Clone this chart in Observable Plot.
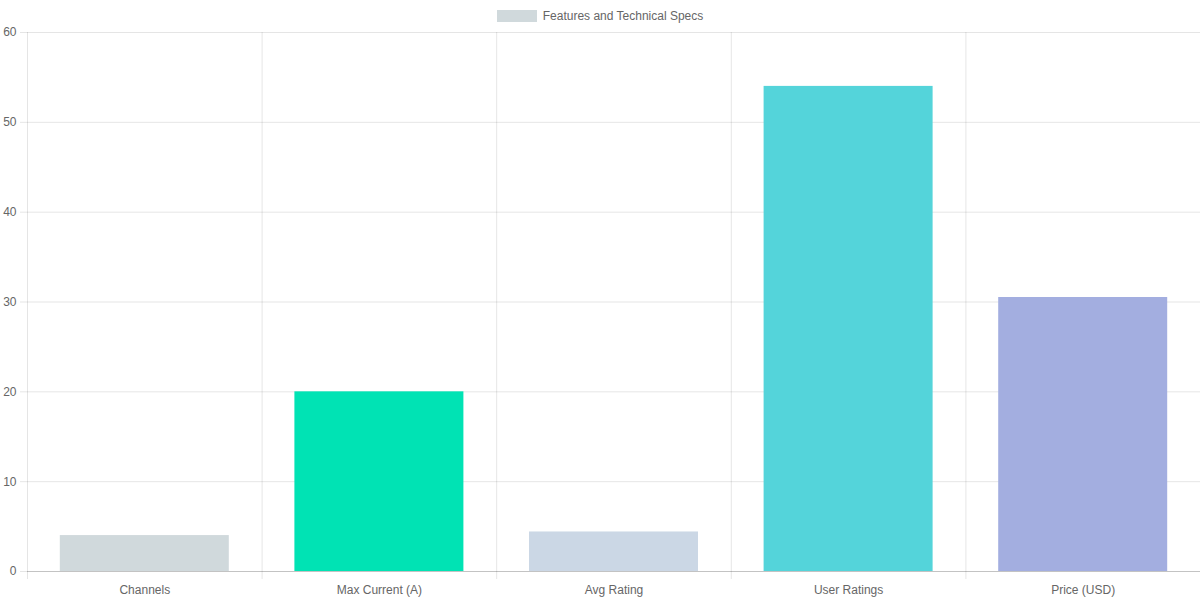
<!DOCTYPE html>
<html>
<head>
<meta charset="utf-8">
<script src="https://cdn.jsdelivr.net/npm/d3@7"></script>
<script src="https://cdn.jsdelivr.net/npm/@observablehq/plot@0.6"></script>
<style>
  html, body { margin: 0; padding: 0; background: #fff; }
  #wrap { position: relative; width: 1200px; height: 600px; font-family: "Liberation Sans", Arial, Helvetica, sans-serif; }
  #legend { position: absolute; top: 0; left: 0; width: 1200px; height: 32px; display: flex; justify-content: center; align-items: center; font-size: 12px; color: #666; }
  #legend .sw { width: 40px; height: 12px; background: #d0d9dc; margin-right: 6px; margin-top: 0px; }
  #chart { position: absolute; top: 0; left: 0; }
</style>
</head>
<body>
<div id="wrap">
  <div id="chart"></div>
  <div id="legend"><div class="sw"></div><span id="legendLabel"></span></div>
</div>
<script>
const seriesName = "Features and Technical Specs";
const categories = ["Channels", "Max Current (A)", "Avg Rating", "User Ratings", "Price (USD)"];
const values = [4, 20, 4.4, 54, 30.5];
const colors = ["#d0d9dc", "#00e3b4", "#cbd7e5", "#54d4da", "#a3aee0"];
const yTicks = [0, 10, 20, 30, 40, 50, 60];

document.getElementById("legendLabel").textContent = seriesName;

const data = categories.map((c, i) => ({category: c, value: values[i], color: colors[i], x1: i, x2: i + 1}));
const boundaries = d3.range(categories.length + 1);
const centers = categories.map((c, i) => i + 0.5);

const chart = Plot.plot({
  width: 1200,
  height: 600,
  marginLeft: 27,
  marginRight: 0,
  marginTop: 32,
  marginBottom: 29,
  style: {fontFamily: '"Liberation Sans", Arial, Helvetica, sans-serif', fontSize: "12px", color: "#666", background: "transparent"},
  x: {domain: [0, categories.length], axis: null},
  y: {domain: [0, 60], axis: null},
  marks: [
    Plot.gridY(yTicks, {stroke: "#000", strokeOpacity: 0.1}),
    Plot.gridX(boundaries, {stroke: "#000", strokeOpacity: 0.1}),
    Plot.axisY({ticks: yTicks, tickSize: 7, text: null, stroke: "#000", strokeOpacity: 0.1, label: null}),
    Plot.axisY({ticks: yTicks, tickSize: 0, tickPadding: 11, fill: "#666", label: null, fontSize: 12}),
    Plot.axisX({ticks: boundaries, tickSize: 8, text: null, stroke: "#000", strokeOpacity: 0.1, label: null}),
    Plot.axisX({ticks: centers, tickSize: 0, tickPadding: 14, tickFormat: (d) => categories[Math.floor(d)], fill: "#666", label: null, fontSize: 12}),
    Plot.rectY(data, {x1: "x1", x2: "x2", y: "value", fill: "color", insetLeft: 32.8, insetRight: 32.8}),
    Plot.ruleY([0], {stroke: "#000", strokeOpacity: 0.15})
  ]
});
document.getElementById("chart").appendChild(chart);
</script>
</body>
</html>
